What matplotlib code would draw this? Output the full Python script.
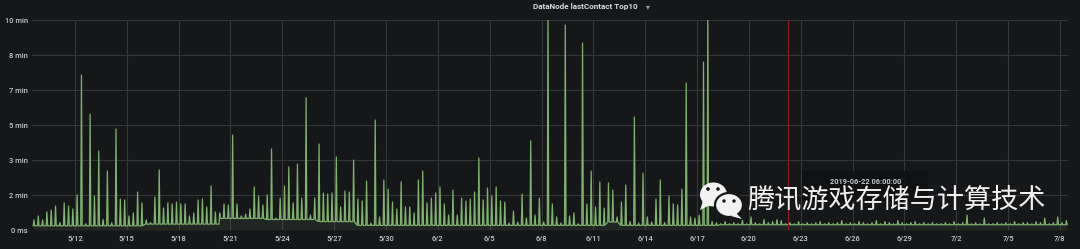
import numpy as np
import matplotlib
matplotlib.use("Agg")
import matplotlib.pyplot as plt
from matplotlib.patches import Ellipse, Polygon, Rectangle

# ---------------- data ----------------
title = "DataNode lastContact Top10"
watermark = "腾讯游戏存储与计算技术"
cursor_time = "2019-06-22 06:00:00"

# spike samples every 6 hours, starting 2019-05-09 15:00 (values in minutes)
slot_start = "2019-05-09T15:00"
slot_hours = 6
spike_values = [
    0.48, 0.67,                      # 5/9
    0.48, 0.86, 0.95, 1.14,          # 5/10
    0.35, 1.29, 1.14, 1.00,          # 5/11
    1.67, 7.38, 0.30, 5.52,          # 5/12
    1.62, 3.76, 0.50, 2.81,          # 5/13
    0.35, 4.81, 1.48, 1.43,          # 5/14
    0.67, 0.81, 1.81, 1.29,          # 5/15
    0.48, 0.35, 1.57, 2.86,          # 5/16
    1.05, 1.29, 1.24, 1.33,          # 5/17
    1.24, 1.24, 0.67, 0.81,          # 5/18
    1.43, 1.48, 1.10, 2.10,          # 5/19
    0.86, 0.81, 1.24, 1.19,          # 5/20
    4.52, 1.24, 0.67, 0.76,          # 5/21
    1.00, 2.05, 1.62, 1.19,          # 5/22
    1.67, 3.86, 0.57, 1.52,          # 5/23
    2.10, 3.00, 1.29, 3.14,          # 5/24
    1.52, 6.29, 0.71, 1.52,          # 5/25
    4.10, 1.76, 1.71, 1.76,          # 5/26
    3.48, 1.10, 1.86, 1.81,          # 5/27
    3.33, 1.48, 1.38, 2.33,          # 5/28
    0.33, 5.24, 0.62, 2.38,          # 5/29
    1.95, 1.33, 1.00, 2.29,          # 5/30
    1.10, 1.10, 0.81, 2.38,          # 5/31
    2.81, 1.29, 1.52, 1.76,          # 6/1
    2.05, 1.24, 0.71, 1.90,          # 6/2
    0.71, 1.52, 1.38, 1.48,          # 6/3
    1.81, 3.43, 1.43, 2.00,          # 6/4
    1.62, 2.05, 1.38, 1.33,          # 6/5
    0.33, 0.90, 0.38, 1.71,          # 6/6
    0.57, 4.24, 0.71, 1.52,          # 6/7
    0.38, 10.50, 1.24, 0.62,         # 6/8
    0.33, 9.76, 0.67, 0.81,          # 6/9
    0.30, 8.90, 1.24, 2.81,          # 6/10
    1.10, 2.29, 1.05, 2.24,          # 6/11
    1.90, 0.62, 1.33, 2.14,          # 6/12
    0.40, 5.38, 0.33, 2.71,          # 6/13
    0.62, 0.38, 1.48, 2.38,          # 6/14
    0.35, 1.62, 1.24, 1.19,          # 6/15
    1.95, 7.00, 0.62, 0.57,          # 6/16
    0.71, 8.00, 10.50, 0.40,         # 6/17
    0.35, 0.30, 0.40, 0.30,          # 6/18
    0.35, 0.30, 0.45, 0.30,          # 6/19
    0.62, 0.35, 0.30, 0.50,          # 6/20
    0.35, 0.40, 0.50, 0.45,          # 6/21
    0.30, 0.35, 0.30, 0.40,          # 6/22
    0.30, 0.35, 0.30, 0.35,          # 6/23
    0.40, 0.30, 0.35, 0.30,          # 6/24
    0.35, 0.45, 0.30, 0.35,          # 6/25
    0.30, 0.40, 0.35, 0.30,          # 6/26
    0.35, 0.45, 0.30, 0.40,          # 6/27
    0.35, 0.30, 0.45, 0.35,          # 6/28
    0.30, 0.35, 0.40, 0.30,          # 6/29
    0.35, 0.30, 0.35, 0.30,          # 6/30
    0.30, 0.35, 0.30, 0.40,          # 7/1
    0.30, 0.35, 0.71, 0.30,          # 7/2
    0.35, 0.30, 0.57, 0.30,          # 7/3
    0.30, 0.35, 0.30, 0.35,          # 7/4
    0.30, 0.40, 0.30, 0.35,          # 7/5
    0.35, 0.30, 0.40, 0.35,          # 7/6
    0.57, 0.30, 0.35, 0.62,          # 7/7
    0.35, 0.45,                      # 7/8
]

# baseline level between spikes (minutes), piecewise by period start
baseline_starts = ["2019-05-09T00:00", "2019-05-16T00:00", "2019-05-20T09:00",
                   "2019-05-23T00:00", "2019-05-26T00:00", "2019-05-28T06:00",
                   "2019-06-11T18:00", "2019-06-12T12:00", "2019-06-18T06:00"]
baseline_levels = [0.20, 0.28, 0.55, 0.50, 0.40, 0.22, 0.38, 0.22, 0.25]

x_tick_labels = ["5/12", "5/15", "5/18", "5/21", "5/24", "5/27", "5/30", "6/2",
                 "6/5", "6/8", "6/11", "6/14", "6/17", "6/20", "6/23", "6/26",
                 "6/29", "7/2", "7/5", "7/8"]
y_tick_values = [0, 100 / 60, 200 / 60, 300 / 60, 400 / 60, 500 / 60, 10]
y_tick_labels = ["0 ms", "2 min", "3 min", "5 min", "7 min", "8 min", "10 min"]

# ---------------- build series ----------------
b_starts = np.array(baseline_starts, dtype="datetime64[m]")


def base_at(t):
    return baseline_levels[np.searchsorted(b_starts, t, side="right") - 1]


def to_dt(t):
    return np.datetime64(t, "s").astype(object)


t0 = np.datetime64(slot_start, "m")
times, vals = [], []
for i, v in enumerate(spike_values):
    t = t0 + np.timedelta64(slot_hours * 60 * i, "m")
    for off, val in ((-60, None), (0, v), (60, None)):
        tt = t + np.timedelta64(off, "m")
        times.append(tt)
        vals.append(base_at(tt) if val is None else val)
times = [to_dt(t) for t in times]
vals = np.array(vals)

# ---------------- style ----------------
BG = "#161719"
GRID = "#36373a"
TXT = "#c8c9ca"
GREEN = "#7EB26D"

plt.rcParams["font.family"] = ["Roboto", "DejaVu Sans"]

fig = plt.figure(figsize=(10.8, 2.49), dpi=100, facecolor=BG)
ax = fig.add_axes([32 / 1080, 19 / 249, 1036 / 1080, 210 / 249], facecolor=BG)

ax.fill_between(times, vals, 0, color=GREEN, alpha=0.10, lw=0)
ax.plot(times, vals, color=GREEN, lw=0.9)

tick_dates = [to_dt("2019-%02d-%02d" % tuple(int(p) for p in s.split("/")))
              for s in x_tick_labels]
ax.set_xticks(tick_dates)
ax.set_xticklabels(x_tick_labels)
ax.set_yticks(y_tick_values)
ax.set_yticklabels(y_tick_labels)

ref = np.datetime64("2019-05-12T00:00", "m")
ax.set_xlim(to_dt(ref - np.timedelta64(int(2.488 * 1440), "m")),
            to_dt(ref + np.timedelta64(int(57.47 * 1440), "m")))
ax.set_ylim(0, 10)

ax.grid(True, color=GRID, lw=0.8)
ax.set_axisbelow(True)
for s in ax.spines.values():
    s.set_visible(False)
ax.tick_params(axis="both", length=0, colors=TXT, labelsize=5.4, pad=3)
for lab in ax.get_xticklabels() + ax.get_yticklabels():
    lab.set_fontweight("medium")

# cursor line
ax.axvline(to_dt("2019-06-22T06:00"), color="#8e1c23", lw=0.8)

# title
fig.text(533 / 1080, 1 - 7 / 249, title, ha="left", va="center",
         fontsize=5.9, fontweight="bold", color="#d8d9da")
fig.text(648 / 1080, 1 - 7 / 249, "▾", ha="center", va="center",
         fontsize=5.5, color="#9fa0a2", family="DejaVu Sans")

# overlay in pixel coordinates
ov = fig.add_axes([0, 0, 1, 1])
ov.set_xlim(0, 1080)
ov.set_ylim(249, 0)
ov.axis("off")
ov.patch.set_alpha(0)

# tooltip
ov.add_patch(Rectangle((802, 171), 126, 30, facecolor="#101112", alpha=0.88,
                       edgecolor="none"))
ov.text(866, 182, cursor_time, ha="center", va="center", fontsize=5.3,
        fontweight="bold", color="#c8c9ca")

# wechat logo
W = "#f2f2f2"
ov.add_patch(Polygon([(703, 201), (700, 210), (710, 205)], closed=True, facecolor=W, edgecolor="none"))
ov.add_patch(Ellipse((713.5, 194.5), 27, 24, facecolor=W, edgecolor="none"))
ov.add_patch(Ellipse((708, 189), 3.6, 3.6, facecolor=BG, edgecolor="none"))
ov.add_patch(Ellipse((718, 189), 3.6, 3.6, facecolor=BG, edgecolor="none"))
ov.add_patch(Ellipse((729, 205), 28, 24, facecolor=W, edgecolor=BG, lw=1.6))
ov.add_patch(Polygon([(736, 213), (742, 219), (731, 216)], closed=True, facecolor=W, edgecolor="none"))
ov.add_patch(Ellipse((724, 201), 3.4, 3.4, facecolor=BG, edgecolor="none"))
ov.add_patch(Ellipse((734, 201), 3.4, 3.4, facecolor=BG, edgecolor="none"))

fig.text(747 / 1080, 1 - 200 / 249, watermark, ha="left", va="center",
         fontsize=19.5, color="#f0f0f0", family=["Noto Sans CJK SC", "DejaVu Sans"])

fig.savefig("out.png", dpi=100, facecolor=BG)
